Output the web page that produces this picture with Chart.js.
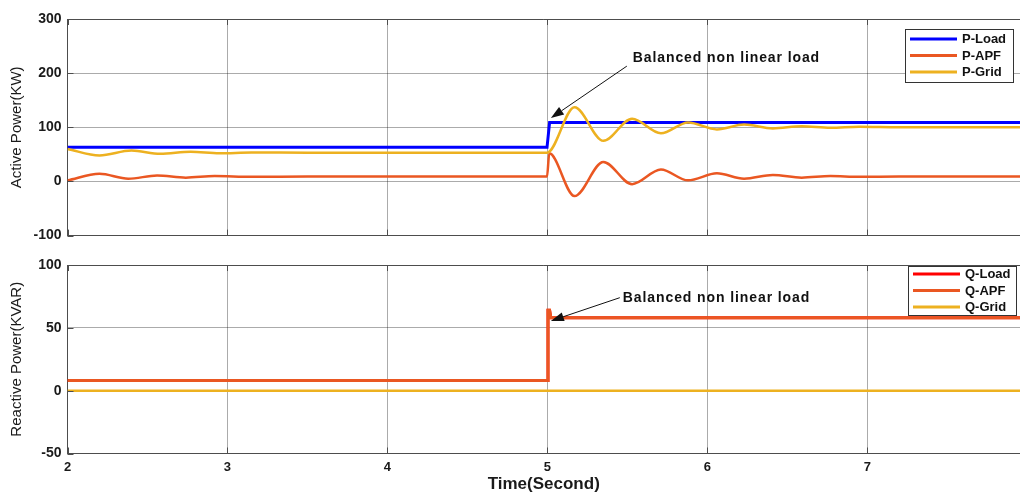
<!DOCTYPE html>
<html>
<head>
<meta charset="utf-8">
<title>Active and Reactive Power</title>
<script src="https://cdn.jsdelivr.net/npm/chart.js@4.4.0/dist/chart.umd.min.js"></script>
<style>
    html, body { margin: 0; padding: 0; background: #fff; }
    #wrap { position: relative; width: 1020px; height: 495px; overflow: hidden; }
    .panel { position: absolute; left: 0; width: 1020px; }
    #activePanel { top: 0; height: 250px; }
    #reactivePanel { top: 250px; height: 245px; }
</style>
</head>
<body>
<div id="wrap">
    <div class="panel" id="activePanel"><canvas id="activeChart"></canvas></div>
    <div class="panel" id="reactivePanel"><canvas id="reactiveChart"></canvas></div>
</div>
<script>
// Time axis (seconds)
const timeMin = 2;
const timeMax = 7.955;
const timeTicks = [2, 3, 4, 5, 6, 7];

// Active power (KW)
const activeTicks = [-100, 0, 100, 200, 300];
const pLoadTime  = [2, 4.998, 5.014, 7.955];
const pLoadValue = [63, 63, 109, 109];
const pApfTime  = [2, 2.2, 2.38, 2.56, 2.74, 2.92, 3.15, 3.5, 4.998, 5.012, 5.17, 5.35, 5.53, 5.71, 5.88, 6.06, 6.23, 6.41, 6.59, 6.77, 6.95, 7.2, 7.955];
const pApfValue = [2, 14, 5, 11, 7, 10, 8.5, 9, 9, 52, -27, 36, -5, 22, 2, 15, 5, 12, 7, 10, 8.5, 9, 9];
const pGridTime  = [2, 2.2, 2.4, 2.58, 2.77, 2.95, 3.15, 3.5, 4.998, 5.17, 5.35, 5.53, 5.71, 5.88, 6.06, 6.23, 6.41, 6.59, 6.77, 6.95, 7.2, 7.5, 7.955];
const pGridValue = [60, 48, 57, 51, 55, 52, 53.5, 53, 53, 137, 75, 116, 89, 109, 96, 105, 98, 102, 99, 101, 100, 100, 100];

// Reactive power (KVAR)
const reactiveTicks = [-50, 0, 50, 100];
const qLoadTime  = [2, 4.998, 5.004, 5.014, 5.022, 7.955];
const qLoadValue = [8, 8, 64, 64, 58, 58];
const qApfTime  = [2, 4.998, 5.004, 5.014, 5.022, 7.955];
const qApfValue = [8, 8, 64, 64, 58, 58];
const qGridTime  = [2, 7.955];
const qGridValue = [0, 0];

const noteText = 'Balanced non linear load';

const BLUE = '#0000ff';
const ORANGE = '#ea5722';
const YELLOW = '#edb120';
const RED = '#ff0000';
const AXIS = '#4d4d4d';
const GRID = 'rgba(0, 0, 0, 0.33)';

Chart.defaults.font.family = '"Liberation Sans", Arial, sans-serif';
Chart.defaults.color = '#1a1a1a';

function toPoints(times, values) {
    return times.map((t, i) => ({ x: t, y: values[i] }));
}

function series(label, times, values, color, width, order, smooth) {
    return {
        label: label,
        data: toPoints(times, values),
        borderColor: color,
        backgroundColor: color,
        borderWidth: width,
        pointRadius: 0,
        fill: false,
        order: order,
        tension: smooth ? 0.4 : 0,
        cubicInterpolationMode: smooth ? 'monotone' : 'default'
    };
}

// box border on top plus short inward tick marks
const framePlugin = {
    id: 'frame',
    afterDatasetsDraw(chart) {
        const { ctx, chartArea: a, scales: { x, y } } = chart;
        ctx.save();
        ctx.strokeStyle = AXIS;
        ctx.lineWidth = 1;
        ctx.beginPath();
        ctx.moveTo(a.left, a.top + 0.5);
        ctx.lineTo(a.right, a.top + 0.5);
        x.ticks.forEach(t => {
            const px = Math.round(x.getPixelForValue(t.value)) + 0.5;
            ctx.moveTo(px, a.bottom);
            ctx.lineTo(px, a.bottom - 6);
            ctx.moveTo(px, a.top);
            ctx.lineTo(px, a.top + 6);
        });
        y.ticks.forEach(t => {
            const py = Math.round(y.getPixelForValue(t.value)) + 0.5;
            ctx.moveTo(a.left, py);
            ctx.lineTo(a.left + 6, py);
        });
        ctx.stroke();
        ctx.restore();
    }
};

// legend drawn as a boxed list inside the top-right corner of the plot
const boxLegend = {
    id: 'boxLegend',
    afterDraw(chart, args, opts) {
        const { ctx, chartArea: a } = chart;
        const sets = chart.data.datasets;
        const w = 108, rowH = 16.5;
        const h = opts.firstRow * 2 + (sets.length - 1) * rowH;
        const left = a.right - opts.right - w;
        const top = a.top + opts.top;
        ctx.save();
        ctx.fillStyle = '#fff';
        ctx.fillRect(left, top, w, h);
        ctx.strokeStyle = '#333';
        ctx.lineWidth = 1;
        ctx.strokeRect(left + 0.5, top + 0.5, w, h);
        ctx.font = 'bold 13px "Liberation Sans", Arial, sans-serif';
        ctx.textBaseline = 'middle';
        sets.forEach((ds, i) => {
            const cy = top + opts.firstRow + i * rowH;
            ctx.strokeStyle = ds.borderColor;
            ctx.lineWidth = 3;
            ctx.beginPath();
            ctx.moveTo(left + 5, cy);
            ctx.lineTo(left + 52, cy);
            ctx.stroke();
            ctx.fillStyle = '#111';
            ctx.fillText(ds.label, left + 57, cy + 0.5);
        });
        ctx.restore();
    }
};

// text label with an arrow pointing at the load step
const noteArrow = {
    id: 'noteArrow',
    afterDraw(chart, args, opts) {
        const { ctx, scales: { x, y } } = chart;
        const tx = x.getPixelForValue(opts.textAt[0]);
        const ty = y.getPixelForValue(opts.textAt[1]);
        const x0 = x.getPixelForValue(opts.from[0]);
        const y0 = y.getPixelForValue(opts.from[1]);
        const x1 = x.getPixelForValue(opts.to[0]);
        const y1 = y.getPixelForValue(opts.to[1]);
        const ang = Math.atan2(y1 - y0, x1 - x0);
        const len = 13, half = 4.5;
        ctx.save();
        ctx.font = 'bold 14px "Liberation Sans", Arial, sans-serif';
        ctx.letterSpacing = '0.9px';
        ctx.fillStyle = '#111';
        ctx.textBaseline = 'middle';
        ctx.fillText(opts.text, tx, ty);
        ctx.strokeStyle = '#111';
        ctx.lineWidth = 1;
        ctx.beginPath();
        ctx.moveTo(x0, y0);
        ctx.lineTo(x1 - Math.cos(ang) * len, y1 - Math.sin(ang) * len);
        ctx.stroke();
        ctx.beginPath();
        ctx.moveTo(x1, y1);
        ctx.lineTo(x1 - Math.cos(ang) * len - Math.sin(ang) * half, y1 - Math.sin(ang) * len + Math.cos(ang) * half);
        ctx.lineTo(x1 - Math.cos(ang) * len + Math.sin(ang) * half, y1 - Math.sin(ang) * len - Math.cos(ang) * half);
        ctx.closePath();
        ctx.fill();
        ctx.restore();
    }
};

function timeScale(showLabels) {
    return {
        type: 'linear',
        min: timeMin,
        max: timeMax,
        afterBuildTicks: s => { s.ticks = timeTicks.map(v => ({ value: v })); },
        afterFit: s => { s.height = showLabels ? 41.5 : 0; },
        grid: { color: GRID, lineWidth: 1, drawTicks: false },
        border: { color: AXIS, width: 1 },
        ticks: {
            display: showLabels,
            padding: 6,
            font: { size: 13, weight: 'bold' },
            color: '#1a1a1a'
        },
        title: {
            display: showLabels,
            text: 'Time(Second)',
            font: { size: 17, weight: 'bold' },
            color: '#1a1a1a',
            padding: { top: 0, bottom: 0 }
        }
    };
}

function valueScale(ticks, titleText) {
    return {
        type: 'linear',
        min: ticks[0],
        max: ticks[ticks.length - 1],
        afterBuildTicks: s => { s.ticks = ticks.map(v => ({ value: v })); },
        afterFit: s => { s.width = 67.5; },
        grid: { color: GRID, lineWidth: 1, drawTicks: false },
        border: { color: AXIS, width: 1 },
        ticks: {
            padding: 6,
            font: { size: 14, weight: 'bold' },
            color: '#1a1a1a'
        },
        title: {
            display: true,
            text: titleText,
            font: { size: 15 },
            color: '#1a1a1a',
            padding: { top: 8, bottom: 0 }
        }
    };
}

function buildChart(canvasId, datasets, yTicks, yTitle, showTime, padding, legendPos, note) {
    return new Chart(document.getElementById(canvasId), {
        type: 'line',
        data: { datasets: datasets },
        options: {
            responsive: true,
            maintainAspectRatio: false,
            animation: false,
            layout: { padding: padding, autoPadding: false },
            scales: {
                x: timeScale(showTime),
                y: valueScale(yTicks, yTitle)
            },
            plugins: {
                legend: { display: false },
                tooltip: { enabled: false },
                boxLegend: legendPos,
                noteArrow: note
            }
        },
        plugins: [framePlugin, boxLegend, noteArrow]
    });
}

buildChart('activeChart', [
    series('P-Load', pLoadTime, pLoadValue, BLUE, 3, 2, false),
    series('P-APF', pApfTime, pApfValue, ORANGE, 2.5, 1, true),
    series('P-Grid', pGridTime, pGridValue, YELLOW, 2.5, 0, true)
], activeTicks, 'Active Power(KW)', false,
    { top: 19, bottom: 10, left: 0, right: 0 },
    { right: 7, top: 10, firstRow: 10 },
    { text: noteText, textAt: [5.534, 228], from: [5.497, 213], to: [5.022, 117] });

buildChart('reactiveChart', [
    series('Q-Load', qLoadTime, qLoadValue, RED, 3, 2, false),
    series('Q-APF', qApfTime, qApfValue, ORANGE, 3, 1, false),
    series('Q-Grid', qGridTime, qGridValue, YELLOW, 2.5, 0, false)
], reactiveTicks, 'Reactive Power(KVAR)', true,
    { top: 15, bottom: 0, left: 0, right: 0 },
    { right: 4, top: 1, firstRow: 8 },
    { text: noteText, textAt: [5.472, 74], from: [5.453, 74], to: [5.022, 55.5] });
</script>
</body>
</html>
